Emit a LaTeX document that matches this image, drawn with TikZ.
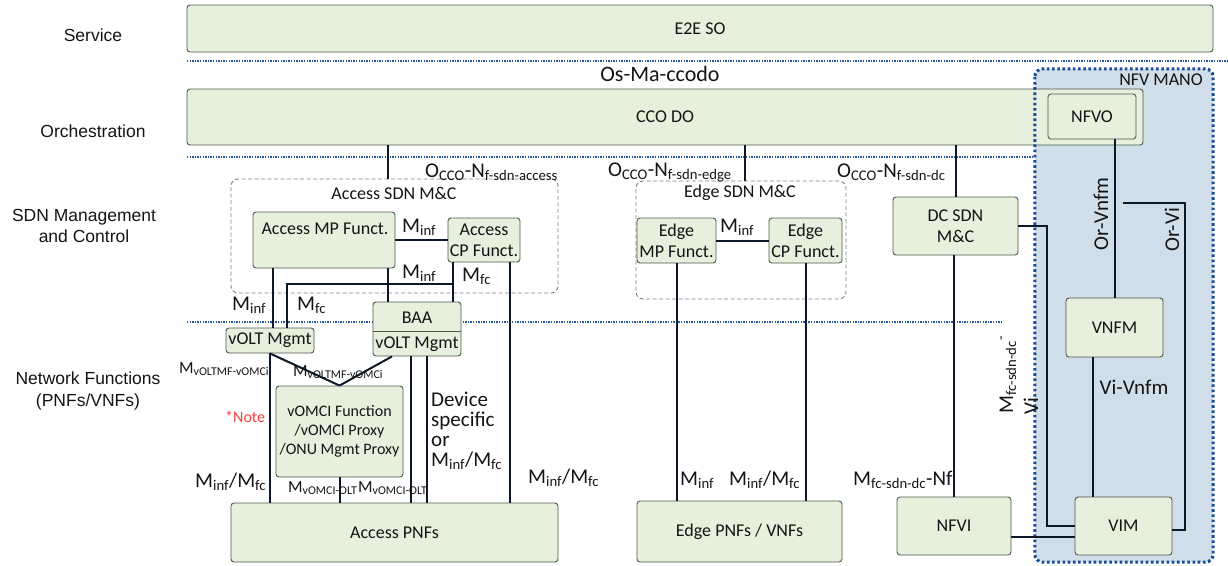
\documentclass[tikz,border=0pt]{standalone}
\usepackage{fontspec}
\setmainfont{Carlito}
\newfontfamily\arialfont{Liberation Sans}
\definecolor{boxfill}{RGB}{230,240,220}
\definecolor{boxline}{RGB}{75,90,75}
\definecolor{connc}{RGB}{12,24,40}
\definecolor{sepblue}{RGB}{40,85,150}
\definecolor{manofill}{RGB}{207,222,233}
\definecolor{manoline}{RGB}{25,75,150}
\definecolor{notered}{RGB}{255,60,60}
\definecolor{txt}{RGB}{20,20,20}
\newcommand\ssub[1]{\textsubscript{#1}}
\newcommand\boxfont{\fontsize{18}{21}\selectfont}
\newcommand\labfont{\fontsize{21}{20}\selectfont}
\newcommand\smlabfont{\fontsize{17}{19}\selectfont}
\tikzset{
  box/.style={draw=boxline, fill=boxfill, line width=0.9pt, rounded corners=3pt, inner sep=0pt, font=\boxfont, align=center, text=txt},
  grp/.style={draw=gray, line width=0.9pt, dash pattern=on 4pt off 2.5pt, rounded corners=7pt, inner sep=0pt},
  conn/.style={draw=connc, line width=2pt},
  sep/.style={draw=sepblue, line width=2.2pt, dash pattern=on 1.3pt off 1.3pt},
  lab/.style={inner sep=0pt, font=\labfont, text=txt},
  smlab/.style={inner sep=0pt, font=\smlabfont, text=txt},
  side/.style={inner sep=0pt, font=\arialfont\fontsize{17.5}{21.5}\selectfont, align=center, text=txt},
  txtn/.style={inner sep=0pt, font=\boxfont, align=center, text=txt}
}
\begin{document}
\begin{tikzpicture}[x=1pt,y=-1pt]
\useasboundingbox (0,0) rectangle (1228,565);
% side labels
\node[side] (lsvc) at (93,35) {Service};
\node[side] (lorch) at (93,131) {Orchestration};
\node[side] (lsdn) at (84,226) {SDN Management\\and Control};
\node[side] (lnf) at (88,391) {Network Functions\\(PNFs/VNFs)};
% separators
\draw[sep] (187,61) -- (1228,61);
\draw[sep] (187,157) -- (1035,157);
\draw[sep] (187,322) -- (1002,322);
% NFV MANO background
\node[fill=manofill, rounded corners=8pt, minimum width=178pt, minimum height=493pt, inner sep=0pt] (mano) at (1124,315.5) {};
% top boxes
\node[box, minimum width=1026pt, minimum height=47pt] (e2eso) at (700,28.5) {E2E SO};
\node[lab, font=\fontsize{22}{24}\selectfont] (osma) at (660,74) {Os-Ma-ccodo};
\node[box, minimum width=956pt, minimum height=56pt] (cco) at (665,117) {};
\node[txtn] (ccotxt) at (665,117) {CCO DO};
\node[box, minimum width=88pt, minimum height=45pt] (nfvo) at (1092,116.5) {NFVO};
% MANO border on top
\draw[draw=manoline, line width=3pt, dash pattern=on 2.6pt off 2.6pt, rounded corners=8pt] (mano.north west) rectangle (mano.south east);
\node[txtn] (manotxt) at (1161,80) {NFV MANO};
% SDN layer
\node[grp, minimum width=327pt, minimum height=114pt] (accsdn) at (394.5,236) {};
\node[txtn] (accsdntxt) at (394,193) {Access SDN M\&C};
\node[box, minimum width=142pt, minimum height=56pt] (accmp) at (324,240) {};
\node[txtn] (accmptxt) at (325,229) {Access MP Funct.};
\node[box, minimum width=72pt, minimum height=44pt] (acccp) at (484,240) {Access\\CP Funct.};
\node[grp, minimum width=210pt, minimum height=118pt] (edgesdn) at (741,240) {};
\node[txtn] (edgesdntxt) at (740,193) {Edge SDN M\&C};
\node[box, minimum width=79pt, minimum height=45pt] (edgemp) at (676.5,240.5) {Edge\\MP Funct.};
\node[box, minimum width=73pt, minimum height=45pt] (edgecp) at (805.5,240.5) {Edge\\CP Funct.};
\node[box, minimum width=125pt, minimum height=58pt] (dcsdn) at (955.5,226) {DC SDN\\M\&C};
% NF layer
\node[box, minimum width=88pt, minimum height=25pt] (voltl) at (270,340.5) {vOLT Mgmt};
\node[box, minimum width=88pt, minimum height=54pt] (baa) at (417,329) {};
\draw[draw=boxline, line width=0.9pt] (baa.west |- 0,331) -- (baa.east |- 0,331);
\node[txtn] (baatxt) at (417,318) {BAA};
\node[txtn] (baavolt) at (417,344) {vOLT Mgmt};
\node[box, minimum width=127pt, minimum height=91pt, font=\fontsize{16}{19}\selectfont] (vomci) at (339.5,431.5) {vOMCI Function\\/vOMCI Proxy\\/ONU Mgmt Proxy};
\node[box, minimum width=327pt, minimum height=59pt] (accpnf) at (394.5,532.5) {Access PNFs};
\node[box, minimum width=205pt, minimum height=61pt] (edgepnf) at (739.5,531.5) {Edge PNFs / VNFs};
\node[box, minimum width=114pt, minimum height=58pt] (nfvi) at (954,526) {NFVI};
\node[box, minimum width=97pt, minimum height=58pt] (vim) at (1123.5,526) {VIM};
\node[box, minimum width=97pt, minimum height=59pt] (vnfm) at (1114.5,327.5) {VNFM};
% connectors
\draw[conn] (cco.south -| 388,0) -- (accsdn.north -| 388,0);
\draw[conn] (cco.south -| 745,0) -- (edgesdn.north -| 745,0);
\draw[conn] (cco.south -| 956,0) -- (dcsdn.north -| 956,0);
\draw[conn] (accmp) -- (acccp);
\draw[conn] (accmp.south -| 273,0) -- (voltl.north -| 273,0);
\draw[conn] (accmp.south -| 388,0) -- (baa.north -| 388,0);
\draw[conn] (acccp.south -| 453,0) -- (baa.north -| 453,0);
\coordinate (jmfc) at (453,284);
\draw[conn] (jmfc) -| (voltl.north -| 287,0);
\draw[conn] (acccp.south -| 510,0) -- (accpnf.north -| 510,0);
\draw[conn] (voltl.south -| 270,0) -- (accpnf.north -| 270,0);
\draw[conn] (voltl.south -| 270,0) -- (vomci.north);
\draw[conn] (baa.south -| 392,0) -- (vomci.north);
\draw[conn] (baa.south -| 411,0) -- (accpnf.north -| 411,0);
\draw[conn] (baa.south -| 427,0) -- (accpnf.north -| 427,0);
\draw[conn] (vomci.south) -- (vomci.south |- accpnf.north);
\draw[conn] (edgemp) -- (edgecp);
\draw[conn] (edgemp.south -| 677,0) -- (edgepnf.north -| 677,0);
\draw[conn] (edgecp.south -| 806,0) -- (edgepnf.north -| 806,0);
\draw[conn] (dcsdn.south -| 954,0) -- (nfvi.north -| 954,0);
\draw[conn] (dcsdn.east) -| (1047,526) -- (vim.west |- 0,526);
\draw[conn] (nfvi.east |- 0,537) -- (vim.west |- 0,537);
\draw[conn] (nfvo.south -| 1115,0) -- (vnfm.north -| 1115,0);
\draw[conn] (vnfm.south -| 1093,0) -- (vim.north -| 1093,0);
\coordinate (orvi) at (1123,203);
\draw[conn] (orvi) -| (1185,530) -- (vim.east |- 0,530);
% interface labels
\node[lab, anchor=base west] (o1) at (425,177) {O\ssub{CCO}-N\ssub{f-sdn-access}};
\node[lab, anchor=base west] (o2) at (608,176) {O\ssub{CCO}-N\ssub{f-sdn-edge}};
\node[lab, anchor=base west] (o3) at (837,177) {O\ssub{CCO}-N\ssub{f-sdn-dc}};
\node[lab, anchor=base west] (mi1) at (402,232) {M\ssub{inf}};
\node[lab, anchor=base west] (mi2) at (402,278) {M\ssub{inf}};
\node[lab, anchor=base west] (mf1) at (462,281) {M\ssub{fc}};
\node[lab, anchor=base west] (mi3) at (232,310) {M\ssub{inf}};
\node[lab, anchor=base west] (mf2) at (297,310) {M\ssub{fc}};
\node[lab, anchor=base west] (mi4) at (720,232) {M\ssub{inf}};
\node[smlab, anchor=base west] (mv1) at (179,373) {M\ssub{vOLTMF-vOMCi}};
\node[smlab, anchor=base west] (mv2) at (293,376) {M\ssub{vOLTMF-vOMCi}};
\node[inner sep=0pt, anchor=base west, text=notered, font=\fontsize{16}{18}\selectfont] (note) at (225,422) {*Note};
\node[lab, anchor=north west, align=left] (dev) at (431,391.5) {Device\\specific\\or\\M\ssub{inf}/M\ssub{fc}};
\node[lab, anchor=base west] (mm1) at (195,487) {M\ssub{inf}/M\ssub{fc}};
\node[smlab, anchor=base west] (mo1) at (288,492) {M\ssub{vOMCI-OLT}};
\node[smlab, anchor=base west] (mo2) at (358,492) {M\ssub{vOMCI-OLT}};
\node[lab, anchor=base west] (mm2) at (528,483) {M\ssub{inf}/M\ssub{fc}};
\node[lab, anchor=base west] (mi5) at (680,485) {M\ssub{inf}};
\node[lab, anchor=base west] (mm3) at (729,485) {M\ssub{inf}/M\ssub{fc}};
\node[lab, anchor=base west] (mnf) at (853,485) {M\ssub{fc-sdn-dc}-Nf};
\node[lab, rotate=90, anchor=base west] (mvi1) at (1013,414) {M\ssub{fc-sdn-dc}\textsuperscript{-}};
\node[lab, rotate=90, anchor=base west] (mvi2) at (1038,415) {Vi};
\node[lab, rotate=90] (orvnfm) at (1101,214) {Or-Vnfm};
\node[lab, rotate=90] (orvitxt) at (1172,230) {Or-Vi};
\node[lab] (vivnfm) at (1134,387) {Vi-Vnfm};
\end{tikzpicture}
\end{document}
